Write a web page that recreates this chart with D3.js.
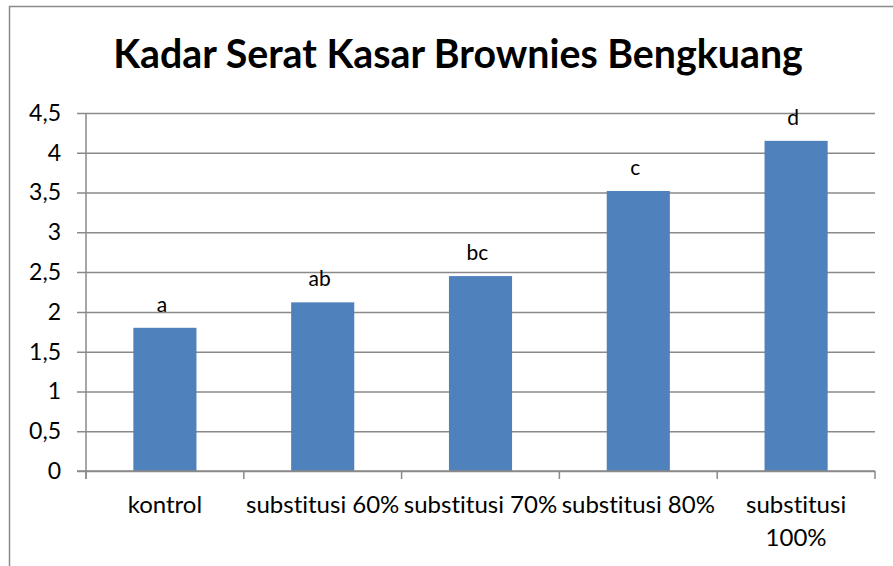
<!DOCTYPE html>
<html>
<head>
<meta charset="utf-8">
<script src="https://cdn.jsdelivr.net/npm/d3@7"></script>
<style>
  html, body { margin: 0; padding: 0; background: #fff; overflow: hidden; }
  svg { display: block; font-family: Lato, "Open Sans", sans-serif; font-variant-ligatures: none; }
</style>
</head>
<body>
<svg id="chart"></svg>
<script>
  const width = 893;
  const height = 566;

  // data
  const categories = ["kontrol", "substitusi 60%", "substitusi 70%", "substitusi 80%", "substitusi 100%"];
  const values = [1.8, 2.12, 2.45, 3.52, 4.15];
  const letters = ["a", "ab", "bc", "c", "d"];
  const yTicks = [0, 0.5, 1, 1.5, 2, 2.5, 3, 3.5, 4, 4.5];
  const title = "Kadar Serat Kasar Brownies Bengkuang";

  const plot = { left: 86, right: 875, top: 113, bottom: 471 };
  const gridColor = "#8a8a8a";
  const barColor = "#4f81bd";

  let svg = d3.select("#chart")
              .attr("width", width)
              .attr("height", height);

  // outer chart frame (right and bottom edges run past the window)
  svg.append("rect")
    .attr("x", 9.5)
    .attr("y", 6.5)
    .attr("width", 896)
    .attr("height", 600)
    .attr("fill", "none")
    .attr("stroke", gridColor)
    .attr("stroke-width", 1.5);

  // title, sized to the width it has in the picture
  let titleText = svg.append("text")
    .attr("x", 458)
    .attr("y", 68)
    .attr("text-anchor", "middle")
    .attr("font-weight", "bold")
    .attr("font-size", 36)
    .attr("fill", "#000")
    .text(title);
  let tw = titleText.node().getComputedTextLength();
  titleText.attr("font-size", 36 * 690 / tw);

  let x = d3.scaleBand()
            .domain(categories)
            .range([plot.left, plot.right])
            .paddingInner(0.6)
            .paddingOuter(0.3);

  let xStep = (plot.right - plot.left) / categories.length;

  let y = d3.scaleLinear()
            .domain([0, 4.5])
            .range([plot.bottom, plot.top]);

  // gridlines + y axis
  let yAxis = d3.axisLeft(y)
                .tickValues(yTicks)
                .tickSize(-(plot.right - plot.left) - 9)
                .tickPadding(16)
                .tickFormat(d => String(d).replace(".", ","));

  let yg = svg.append("g")
    .attr("transform", `translate(${plot.left - 9},0)`)
    .call(yAxis);
  yg.select(".domain").remove();
  yg.selectAll(".tick line")
    .attr("stroke", gridColor)
    .attr("stroke-width", 1.5);
  yg.selectAll(".tick text")
    .attr("font-size", 23)
    .attr("fill", "#000")
    .attr("font-family", "Lato, sans-serif");

  // vertical axis line
  svg.append("line")
    .attr("x1", plot.left).attr("x2", plot.left)
    .attr("y1", plot.top).attr("y2", plot.bottom + 8)
    .attr("stroke", gridColor)
    .attr("stroke-width", 1.5);

  // x axis ticks between categories
  let boundaries = d3.range(categories.length + 1).map(i => plot.left + i * xStep);
  svg.selectAll(".xtick")
    .data(boundaries)
    .enter()
    .append("line")
      .attr("class", "xtick")
      .attr("x1", d => d).attr("x2", d => d)
      .attr("y1", plot.bottom).attr("y2", plot.bottom + 8)
      .attr("stroke", gridColor)
      .attr("stroke-width", 1.5);

  // bars
  svg.selectAll(".bar")
    .data(values)
    .enter()
    .append("rect")
      .attr("class", "bar")
      .attr("x", (d, i) => x(categories[i]))
      .attr("y", d => y(d))
      .attr("width", x.bandwidth())
      .attr("height", d => y(0) - y(d))
      .attr("fill", barColor);

  // baseline over bars
  svg.append("line")
    .attr("x1", plot.left - 9).attr("x2", plot.right)
    .attr("y1", y(0)).attr("y2", y(0))
    .attr("stroke", gridColor)
    .attr("stroke-width", 1.5);

  // significance letters
  svg.selectAll(".letter")
    .data(values)
    .enter()
    .append("text")
      .attr("class", "letter")
      .attr("x", (d, i) => x(categories[i]) + x.bandwidth() / 2 - 3)
      .attr("y", d => y(d) - 16)
      .attr("text-anchor", "middle")
      .attr("font-size", 21)
      .attr("fill", "#000")
      .text((d, i) => letters[i]);

  // category labels, wrapped when wider than one slot
  categories.forEach((c, i) => {
    let cx = x(c) + x.bandwidth() / 2;
    let t = svg.append("text")
      .attr("x", cx)
      .attr("y", 513)
      .attr("text-anchor", "middle")
      .attr("font-size", 24)
      .attr("fill", "#000")
      .text(c);
    if (t.node().getComputedTextLength() > xStep) {
      let words = c.split(" ");
      t.text(null);
      words.forEach((w, j) => {
        t.append("tspan")
          .attr("x", cx)
          .attr("dy", j === 0 ? 0 : 33)
          .text(w);
      });
    }
  });
</script>
</body>
</html>
